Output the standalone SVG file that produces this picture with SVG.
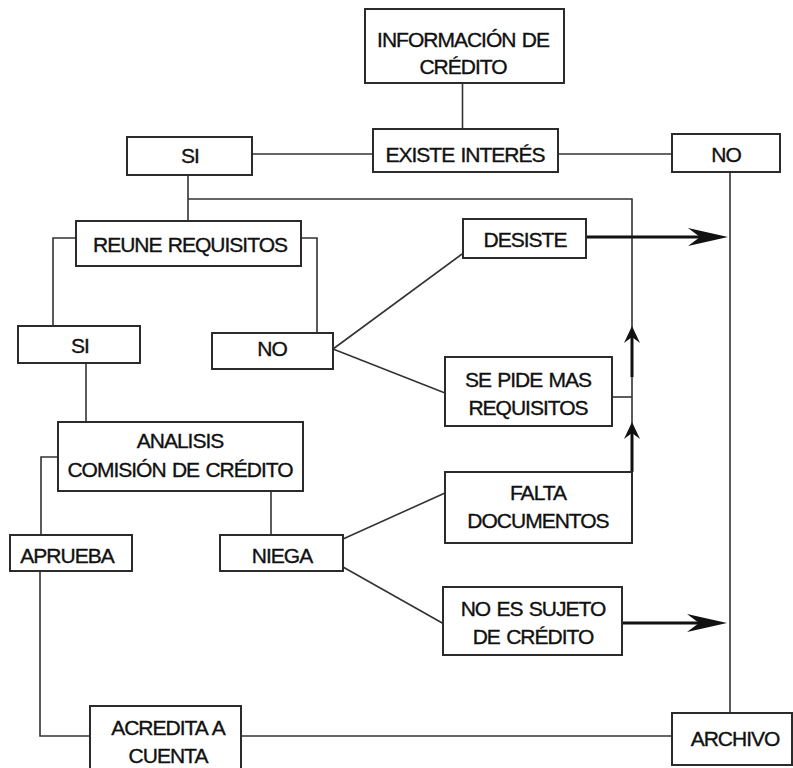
<svg xmlns="http://www.w3.org/2000/svg" width="793" height="768" viewBox="0 0 793 768">
<style>
.box{fill:#fff;stroke:#2b2b2b;stroke-width:2}
.t{font-family:"Liberation Sans",Arial,sans-serif;font-size:21px;letter-spacing:-1px;word-spacing:1.5px;fill:#111;stroke:#111;stroke-width:0.35;text-anchor:middle}
.ln{fill:none;stroke:#333;stroke-width:1.6}
.th{fill:none;stroke:#111;stroke-width:3}
</style>
<defs>
<marker id="big" viewBox="-12 -10 40 20" refX="0" refY="0" markerWidth="40" markerHeight="20" markerUnits="userSpaceOnUse" orient="auto">
<path d="M28,0 L-12,-9 L0,0 L-12,9 Z" fill="#111"/>
</marker>
<marker id="small" viewBox="-6 -9 17 18" refX="0" refY="0" markerWidth="17" markerHeight="18" markerUnits="userSpaceOnUse" orient="auto">
<path d="M11,0 L-6,-8 L0,0 L-6,8 Z" fill="#111"/>
</marker>
</defs>
<rect width="793" height="768" fill="#fff"/>
<g id="connectors">
<path class="ln" d="M462.5,83 V129"/>
<path class="ln" d="M252,154 H373"/>
<path class="ln" d="M558,154 H672"/>
<path class="ln" d="M730,172 V713"/>
<path class="ln" d="M188,175 V221"/>
<path class="ln" d="M188,199 H632 V472"/>
<path class="ln" d="M76,238 H53 V326"/>
<path class="ln" d="M301,238 H317 V333"/>
<path class="ln" d="M86,363 V422"/>
<path class="ln" d="M333,349 L462,254"/>
<path class="ln" d="M333,349 L445,393"/>
<path class="ln" d="M612,397 H632"/>
<path class="ln" d="M58,457 H41 V535"/>
<path class="ln" d="M271,491 V535"/>
<path class="ln" d="M343,539 L445,493"/>
<path class="ln" d="M343,567 L444,624"/>
<path class="ln" d="M40,571 V736 H90"/>
<path class="ln" d="M241,736 H672"/>
<path class="th" d="M586,237 H700" marker-end="url(#big)"/>
<path class="th" d="M622,623 H699" marker-end="url(#big)"/>
<path class="th" d="M632,377 V337" marker-end="url(#small)"/>
<path class="th" d="M632,472 V433" marker-end="url(#small)"/>
</g>
<g id="informacion"><rect class="box" x="365" y="9" width="199" height="74"/><text class="t" x="463" y="47">INFORMACIÓN DE</text><text class="t" x="463" y="74">CRÉDITO</text></g>
<g id="existe"><rect class="box" x="373" y="129" width="185" height="43"/><text class="t" x="465" y="162">EXISTE INTERÉS</text></g>
<g id="si1"><rect class="box" x="127" y="137" width="125" height="38"/><text class="t" x="190" y="163">SI</text></g>
<g id="no1"><rect class="box" x="672" y="134" width="108" height="38"/><text class="t" x="726" y="162">NO</text></g>
<g id="desiste"><rect class="box" x="463" y="219" width="123" height="39"/><text class="t" x="525" y="247">DESISTE</text></g>
<g id="reune"><rect class="box" x="76" y="221" width="225" height="45"/><text class="t" x="190" y="252">REUNE REQUISITOS</text></g>
<g id="si2"><rect class="box" x="18" y="326" width="122" height="37"/><text class="t" x="80" y="353">SI</text></g>
<g id="no2"><rect class="box" x="212" y="333" width="121" height="36"/><text class="t" x="272" y="356">NO</text></g>
<g id="sepide"><rect class="box" x="445" y="357" width="167" height="69"/><text class="t" x="528" y="387">SE PIDE MAS</text><text class="t" x="528" y="415">REQUISITOS</text></g>
<g id="analisis"><rect class="box" x="58" y="422" width="245" height="69"/><text class="t" x="180" y="448">ANALISIS</text><text class="t" x="180" y="477">COMISIÓN DE CRÉDITO</text></g>
<g id="falta"><rect class="box" x="445" y="472" width="187" height="71"/><text class="t" x="538" y="500">FALTA</text><text class="t" x="538" y="528">DOCUMENTOS</text></g>
<g id="aprueba"><rect class="box" x="10" y="535" width="122" height="36"/><text class="t" x="67" y="563">APRUEBA</text></g>
<g id="niega"><rect class="box" x="220" y="535" width="123" height="36"/><text class="t" x="282" y="563">NIEGA</text></g>
<g id="noes"><rect class="box" x="443" y="587" width="179" height="68"/><text class="t" x="533" y="616">NO ES SUJETO</text><text class="t" x="533" y="644">DE CRÉDITO</text></g>
<g id="acredita"><rect class="box" x="90" y="706" width="151" height="70"/><text class="t" x="168" y="735">ACREDITA A</text><text class="t" x="168" y="763">CUENTA</text></g>
<g id="archivo"><rect class="box" x="672" y="713" width="120" height="52"/><text class="t" x="735" y="746">ARCHIVO</text></g>
</svg>
